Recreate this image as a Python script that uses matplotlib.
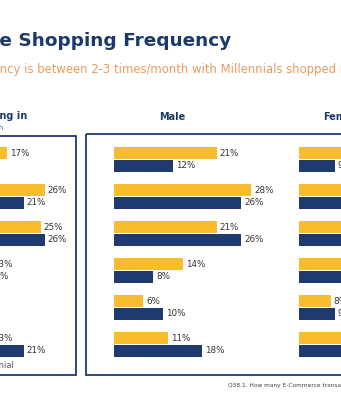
import matplotlib
matplotlib.use("Agg")
import matplotlib.pyplot as plt
from matplotlib.patches import Rectangle
import numpy as np

# ---------------- data ----------------
categories = ["Daily", "2-3 times/week", "Once a week", "2-3 times/month",
              "Once a month", "Less often"]
overall_genz = [17, 26, 25, 13, 6, 13]
overall_mill = [10, 21, 26, 12, 10, 21]
male_genz = [21, 28, 21, 14, 6, 11]
male_mill = [12, 26, 26, 8, 10, 18]
female_genz = [18, 25, 23, 15, 8, 11]
female_mill = [9, 24, 25, 13, 9, 20]

YELLOW = "#F8BC2C"
NAVY = "#1E3A6E"
TITLE = "#1B3A6B"
ORANGE = "#E99C5E"
LABEL = "#333333"

W, H = 341, 400
fig = plt.figure(figsize=(W / 100, H / 100), dpi=100)
fig.patch.set_facecolor("white")

# overlay axes in pixel coordinates
ax0 = fig.add_axes([0, 0, 1, 1])
ax0.set_xlim(0, W)
ax0.set_ylim(H, 0)
ax0.axis("off")

fig.canvas.draw()
renderer = fig.canvas.get_renderer()


def clipped_text(prefix, visible, x_start, y, **kw):
    t = ax0.text(0, 0, prefix, **kw)
    w = t.get_window_extent(renderer).width
    t.remove()
    ax0.text(x_start - w, y, prefix + visible, ha="left", va="center", **kw)


# title & subtitle
clipped_text("Onlin", "e Shopping Frequency", -1, 41,
             fontsize=13.3, fontweight="bold", color=TITLE)
clipped_text("Most common shopping freque",
             "ncy is between 2-3 times/month with Millennials shopped more often",
             0, 70, fontsize=8.4, color=ORANGE)

# panel boxes
ax0.add_patch(Rectangle((-40, 136), 116, 239, fill=False, ec=NAVY, lw=1.3))
ax0.add_patch(Rectangle((86, 134), 300, 241, fill=False, ec=NAVY, lw=1.3))

# panel headings
ax0.text(27, 116, "Frequency of Shopping in", ha="right", va="center",
         fontsize=7, fontweight="bold", color=TITLE)
ax0.text(3, 128, "the Past Month", ha="right", va="center",
         fontsize=5, color="#3B6FB6")
ax0.text(172, 117, "Male", ha="center", va="center",
         fontsize=7, fontweight="bold", color=TITLE)
ax0.text(323, 117, "Female", ha="left", va="center",
         fontsize=7, fontweight="bold", color=TITLE)

# legend fragment & footnote
ax0.text(14, 366, "Gen Z     Millennial", ha="right", va="center",
         fontsize=6, color="#555555")
ax0.text(228, 385, "Q38.1. How many E-Commerce transactions did you make in the past month?",
         ha="left", va="center", fontsize=4.2, color="#444444")


def panel(x0, scale, genz, mill):
    # axes from pixel x0 with given px-per-percent scale; rows between y 141..363
    width_px = scale * 30
    top, bot = 141, 363
    ax = fig.add_axes([x0 / W, 1 - bot / H, width_px / W, (bot - top) / H])
    ax.set_xlim(0, 30)
    ax.set_ylim(5.5, -0.5)
    ax.axis("off")
    ax.patch.set_alpha(0)
    rows = np.arange(len(categories))
    off, h = 0.17, 0.33
    ax.barh(rows - off, genz, height=h, color=YELLOW)
    ax.barh(rows + off, mill, height=h, color=NAVY)
    for r, v in zip(rows, genz):
        ax.text(v + 0.6, r - off, f"{v}%", va="center", ha="left",
                fontsize=6.3, color=LABEL, clip_on=False)
    for r, v in zip(rows, mill):
        ax.text(v + 0.6, r + off, f"{v}%", va="center", ha="left",
                fontsize=6.3, color=LABEL, clip_on=False)
    return ax


panel(-64, 4.2, overall_genz, overall_mill)
panel(114, 4.9, male_genz, male_mill)
panel(299, 4.0, female_genz, female_mill)

fig.savefig("out.png", dpi=100, facecolor="white")
